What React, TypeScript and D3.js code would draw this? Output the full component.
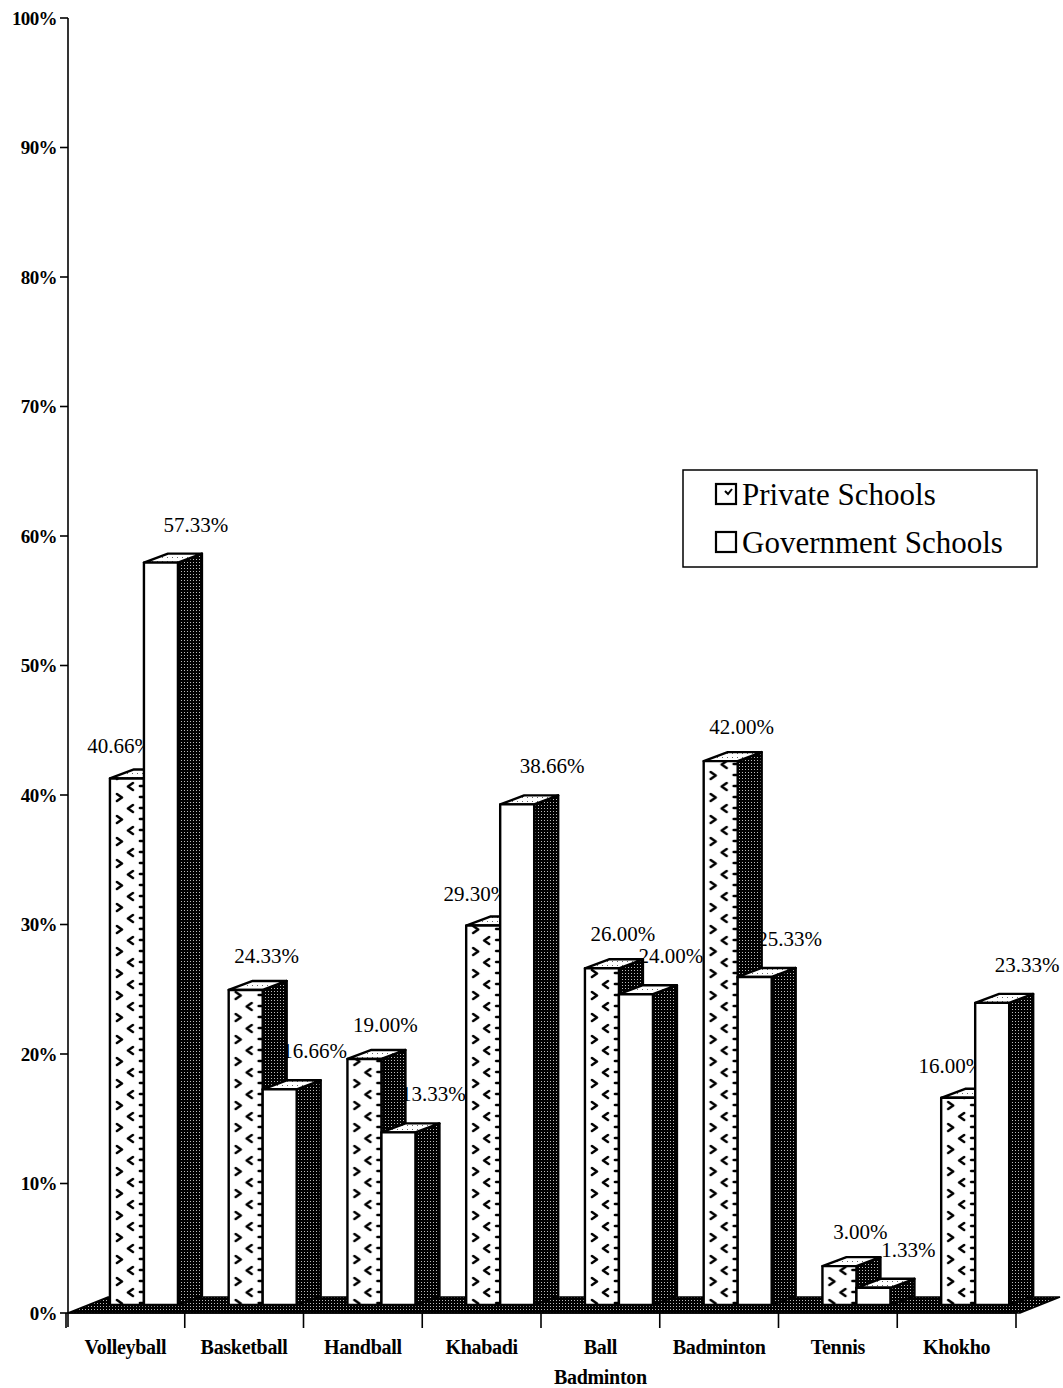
import { useEffect } from "react";
import * as d3 from "d3";

const categories = [
  "Volleyball",
  "Basketball",
  "Handball",
  "Khabadi",
  "Ball Badminton",
  "Badminton",
  "Tennis",
  "Khokho",
];
const privateSchools = [40.66, 24.33, 19.0, 29.3, 26.0, 42.0, 3.0, 16.0];
const governmentSchools = [57.33, 16.66, 13.33, 38.66, 24.0, 25.33, 1.33, 23.33];
const yTicks = [0, 10, 20, 30, 40, 50, 60, 70, 80, 90, 100];
const seriesNames = ["Private Schools", "Government Schools"];

const W = 1063;
const H = 1388;
const FONT = "'Liberation Serif', 'Times New Roman', serif";

const x = d3.scaleBand<string>().domain(categories).range([66, 1016]);
const y = d3.scaleLinear().domain([0, 100]).range([1313, 18]);

// 3d look
const BAR_W = 34;
const DX = 24;
const DY = -9;
const LIFT = 8;
const FLOOR_DX = 40;
const FLOOR_DY = -16;

const fmt = (v: number) => v.toFixed(2) + "%";
const pts = (p: [number, number][]) => p.map((d) => d.join(",")).join(" ");

function Bar({ x0, v, fill }: { x0: number; v: number; fill: string }) {
  const yt = y(v) - LIFT;
  const yb = y(0) - LIFT;
  const x1 = x0 + BAR_W;
  return (
    <g stroke="#000" strokeWidth={2.4} strokeLinejoin="round">
      <polygon points={pts([[x1, yt], [x1 + DX, yt + DY], [x1 + DX, yb + DY], [x1, yb]])} fill="url(#dots)" />
      <polygon points={pts([[x0, yt], [x1, yt], [x1 + DX, yt + DY], [x0 + DX, yt + DY]])} fill="url(#topfine)" />
      <rect x={x0} y={yt} width={BAR_W} height={yb - yt} fill={fill} />
    </g>
  );
}

export default function App() {
  useEffect(() => {
    document.body.style.margin = "0";
  }, []);

  const bw = x.bandwidth();
  const privX = (c: string) => x(c)! + bw * 0.37;
  const govX = (c: string) => privX(c) + BAR_W;
  const y0 = y(0);

  return (
    <svg width={W} height={H} style={{ display: "block", background: "#fff" }} fontFamily={FONT}>
      <defs>
        <pattern id="dots" patternUnits="userSpaceOnUse" width={3} height={3}>
          <rect width={3} height={3} fill="#000" />
          <rect x={1} y={1} width={1} height={1} fill="#bbb" />
        </pattern>
        <pattern id="topfine" patternUnits="userSpaceOnUse" width={5} height={4}>
          <rect width={5} height={4} fill="#fff" />
          <rect x={2} y={1} width={1} height={1} fill="#666" />
        </pattern>
        <pattern id="chev" patternUnits="userSpaceOnUse" x={privX(categories[0])} y={0} width={bw} height={22}>
          <rect width={bw} height={22} fill="#fff" />
          <g stroke="#000" strokeWidth={2.6} fill="none" strokeLinecap="round" strokeLinejoin="round">
            <path d="M7,2 L12,5.5 L7,9" />
            <path d="M23,13 L18,16.5 L23,20" />
            <path d="M30,5 L34,5" />
            <path d="M30,16 L34,16" />
          </g>
        </pattern>
        <pattern id="legchev" patternUnits="userSpaceOnUse" width={20} height={20}>
          <rect width={20} height={20} fill="#fff" />
          <path d="M9,7 L12,10 L16,5" stroke="#000" strokeWidth={2} fill="none" />
        </pattern>
      </defs>

      {/* y axis */}
      <g fontSize={19} fontWeight="bold" textAnchor="end">
        <line x1={68} x2={68} y1={y(100)} y2={y0 + 14} stroke="#000" strokeWidth={1.6} />
        {yTicks.map((t) => (
          <g key={t}>
            <line x1={60} x2={68} y1={y(t)} y2={y(t)} stroke="#000" strokeWidth={1.6} />
            <text x={57} y={y(t)} dy="0.35em" letterSpacing={-0.6}>
              {t}%
            </text>
          </g>
        ))}
      </g>

      {/* floor */}
      <polygon
        points={pts([
          [68, y0],
          [x.range()[1] + 4, y0],
          [x.range()[1] + 4 + FLOOR_DX, y0 + FLOOR_DY],
          [68 + FLOOR_DX, y0 + FLOOR_DY],
        ])}
        fill="url(#dots)"
        stroke="#000"
        strokeWidth={1.5}
      />

      {/* value labels, drawn under the bars */}
      <g fontSize={21} textAnchor="middle">
        {categories.map((c, i) => {
          const p = privateSchools[i];
          const g = governmentSchools[i];
          const pTop = y(p) - LIFT;
          const gTop = y(g) - LIFT;
          return (
            <g key={c}>
              {g > p ? (
                <text x={govX(c) + 8} y={pTop - 25} textAnchor="end">
                  {fmt(p)}
                </text>
              ) : (
                <text x={privX(c) + 38} y={pTop - 27}>
                  {fmt(p)}
                </text>
              )}
              <text x={govX(c) + 52} y={gTop - 31}>
                {fmt(g)}
              </text>
            </g>
          );
        })}
      </g>

      {/* bars */}
      {categories.map((c, i) => (
        <g key={c}>
          <Bar x0={privX(c)} v={privateSchools[i]} fill="url(#chev)" />
          <Bar x0={govX(c)} v={governmentSchools[i]} fill="#fff" />
        </g>
      ))}

      {/* x axis */}
      <g>
        <line x1={68} x2={x.range()[1]} y1={y0} y2={y0} stroke="#000" strokeWidth={1.6} />
        {[...categories.map((c) => x(c)!), x.range()[1]].map((t, i) => (
          <line key={i} x1={t} x2={t} y1={y0} y2={y0 + 15} stroke="#000" strokeWidth={1.6} />
        ))}
        <g fontSize={20} fontWeight="bold" textAnchor="middle">
          {categories.map((c) => (
            <text key={c} x={x(c)! + bw / 2} y={1354} letterSpacing={-0.3}>
              {c.split(" ").map((w, k) => (
                <tspan key={k} x={x(c)! + bw / 2} dy={k === 0 ? 0 : 30}>
                  {w}
                </tspan>
              ))}
            </text>
          ))}
        </g>
      </g>

      {/* legend */}
      <g>
        <rect x={683} y={470} width={354} height={97} fill="#fff" stroke="#000" strokeWidth={1.5} />
        {seriesNames.map((s, i) => (
          <g key={s} transform={`translate(716,${484 + i * 48})`}>
            <rect width={20} height={20} fill={i === 0 ? "url(#legchev)" : "#fff"} stroke="#000" strokeWidth={2.2} />
            <text x={26} y={21} fontSize={31}>
              {s}
            </text>
          </g>
        ))}
      </g>
    </svg>
  );
}
